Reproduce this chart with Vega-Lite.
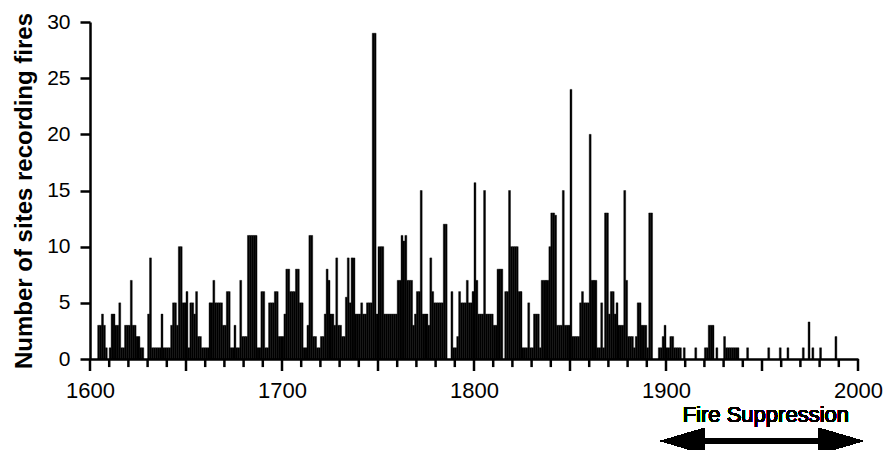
{
  "$schema": "https://vega.github.io/schema/vega-lite/v6.json",
  "width": 768,
  "height": 337,
  "autosize": {"type": "none"},
  "padding": {"left": 90, "top": 22, "right": 27, "bottom": 91},
  "background": "white",
  "config": {"view": {"stroke": null}, "font": "Liberation Sans"},
  "datasets": {
    "minorTicks": [{"year":1610},{"year":1620},{"year":1630},{"year":1640},{"year":1660},{"year":1670},{"year":1680},{"year":1690},{"year":1710},{"year":1720},{"year":1730},{"year":1740},{"year":1760},{"year":1770},{"year":1780},{"year":1790},{"year":1810},{"year":1820},{"year":1830},{"year":1840},{"year":1860},{"year":1870},{"year":1880},{"year":1890},{"year":1910},{"year":1920},{"year":1930},{"year":1940},{"year":1960},{"year":1970},{"year":1980},{"year":1990}],
    "majorTicks": [{"year":1600},{"year":1650},{"year":1700},{"year":1750},{"year":1800},{"year":1850},{"year":1900},{"year":1950},{"year":2000}]
  },
  "data": {"values": [
    {"year":1604,"sites":3},{"year":1605,"sites":3},{"year":1606,"sites":4},{"year":1607,"sites":3},{"year":1608,"sites":1},
    {"year":1610,"sites":1},{"year":1611,"sites":4},{"year":1612,"sites":4},{"year":1613,"sites":3},{"year":1614,"sites":3},
    {"year":1615,"sites":5},{"year":1616,"sites":1},{"year":1617,"sites":1},{"year":1618,"sites":3},{"year":1619,"sites":3},
    {"year":1620,"sites":3},{"year":1621,"sites":7},{"year":1622,"sites":3},{"year":1623,"sites":3},{"year":1624,"sites":2},
    {"year":1625,"sites":2},{"year":1626,"sites":1},{"year":1627,"sites":1},{"year":1630,"sites":4},{"year":1631,"sites":9},
    {"year":1632,"sites":1},{"year":1633,"sites":1},{"year":1634,"sites":1},{"year":1635,"sites":1},{"year":1636,"sites":1},
    {"year":1637,"sites":4},{"year":1638,"sites":1},{"year":1639,"sites":1},{"year":1640,"sites":1},{"year":1641,"sites":1},
    {"year":1642,"sites":3},{"year":1643,"sites":5},{"year":1644,"sites":5},{"year":1645,"sites":3},{"year":1646,"sites":10},
    {"year":1647,"sites":10},{"year":1648,"sites":5},{"year":1649,"sites":5},{"year":1650,"sites":6},{"year":1651,"sites":1},
    {"year":1652,"sites":5},{"year":1653,"sites":5},{"year":1654,"sites":4},{"year":1655,"sites":6},{"year":1656,"sites":2},
    {"year":1657,"sites":2},{"year":1658,"sites":1},{"year":1659,"sites":1},{"year":1660,"sites":1},{"year":1661,"sites":1},
    {"year":1662,"sites":5},{"year":1663,"sites":5},{"year":1664,"sites":7},{"year":1665,"sites":5},{"year":1666,"sites":5},
    {"year":1667,"sites":5},{"year":1668,"sites":5},{"year":1669,"sites":3},{"year":1670,"sites":3},{"year":1671,"sites":6},
    {"year":1672,"sites":6},{"year":1673,"sites":1},{"year":1674,"sites":1},{"year":1675,"sites":3},{"year":1676,"sites":1},
    {"year":1677,"sites":1},{"year":1678,"sites":7},{"year":1679,"sites":2},{"year":1680,"sites":2},{"year":1681,"sites":2},
    {"year":1682,"sites":11},{"year":1683,"sites":11},{"year":1684,"sites":11},{"year":1685,"sites":11},{"year":1686,"sites":11},
    {"year":1687,"sites":1},{"year":1688,"sites":1},{"year":1689,"sites":6},{"year":1690,"sites":6},{"year":1691,"sites":1},
    {"year":1692,"sites":1},{"year":1693,"sites":5},{"year":1694,"sites":5},{"year":1695,"sites":5},{"year":1696,"sites":6},
    {"year":1697,"sites":6},{"year":1698,"sites":2},{"year":1699,"sites":2},{"year":1700,"sites":2},{"year":1701,"sites":4},
    {"year":1702,"sites":8},{"year":1703,"sites":8},{"year":1704,"sites":6},{"year":1705,"sites":6},{"year":1706,"sites":6},
    {"year":1707,"sites":8},{"year":1708,"sites":8},{"year":1709,"sites":5},{"year":1710,"sites":5},{"year":1711,"sites":1},
    {"year":1712,"sites":1},{"year":1713,"sites":3},{"year":1714,"sites":11},{"year":1715,"sites":11},{"year":1716,"sites":2},
    {"year":1717,"sites":2},{"year":1718,"sites":1},{"year":1719,"sites":1},{"year":1720,"sites":2},{"year":1721,"sites":2},
    {"year":1722,"sites":4},{"year":1723,"sites":8},{"year":1724,"sites":7},{"year":1725,"sites":4},{"year":1726,"sites":4},
    {"year":1727,"sites":3},{"year":1728,"sites":9},{"year":1729,"sites":3},{"year":1730,"sites":3},{"year":1731,"sites":2},
    {"year":1732,"sites":2},{"year":1733,"sites":5.5},{"year":1734,"sites":9},{"year":1735,"sites":5},{"year":1736,"sites":9},
    {"year":1737,"sites":9},{"year":1738,"sites":4},{"year":1739,"sites":4},{"year":1740,"sites":4},{"year":1741,"sites":5},
    {"year":1742,"sites":4},{"year":1743,"sites":4},{"year":1744,"sites":5},{"year":1745,"sites":5},{"year":1746,"sites":5},
    {"year":1747,"sites":29},{"year":1748,"sites":29},{"year":1749,"sites":4},{"year":1750,"sites":10},{"year":1751,"sites":10},
    {"year":1752,"sites":10},{"year":1753,"sites":4},{"year":1754,"sites":4},{"year":1755,"sites":4},{"year":1756,"sites":4},
    {"year":1757,"sites":4},{"year":1758,"sites":4},{"year":1759,"sites":4},{"year":1760,"sites":7},{"year":1761,"sites":7},
    {"year":1762,"sites":11},{"year":1763,"sites":10.5},{"year":1764,"sites":11},{"year":1765,"sites":7},{"year":1766,"sites":7},
    {"year":1767,"sites":7},{"year":1768,"sites":3},{"year":1769,"sites":4},{"year":1770,"sites":6},{"year":1771,"sites":6},
    {"year":1772,"sites":15},{"year":1773,"sites":4},{"year":1774,"sites":4},{"year":1775,"sites":4},{"year":1776,"sites":3},
    {"year":1777,"sites":9},{"year":1778,"sites":6},{"year":1779,"sites":5},{"year":1780,"sites":5},{"year":1781,"sites":5},
    {"year":1782,"sites":5},{"year":1783,"sites":5},{"year":1784,"sites":12},{"year":1785,"sites":12},{"year":1788,"sites":6},
    {"year":1789,"sites":1},{"year":1790,"sites":1},{"year":1791,"sites":2},{"year":1792,"sites":6},{"year":1793,"sites":5},
    {"year":1794,"sites":5},{"year":1795,"sites":5},{"year":1796,"sites":7},{"year":1797,"sites":5},{"year":1798,"sites":5},
    {"year":1799,"sites":6},{"year":1800,"sites":15.7},{"year":1801,"sites":7},{"year":1802,"sites":4},{"year":1803,"sites":4},
    {"year":1804,"sites":4},{"year":1805,"sites":15},{"year":1806,"sites":4},{"year":1807,"sites":4},{"year":1808,"sites":4},
    {"year":1809,"sites":4},{"year":1810,"sites":3},{"year":1811,"sites":3},{"year":1812,"sites":8},{"year":1813,"sites":8},
    {"year":1814,"sites":8},{"year":1816,"sites":6},{"year":1817,"sites":6},{"year":1818,"sites":15},{"year":1819,"sites":10},
    {"year":1820,"sites":10},{"year":1821,"sites":10},{"year":1822,"sites":10},{"year":1823,"sites":6},{"year":1824,"sites":6},
    {"year":1825,"sites":1},{"year":1826,"sites":1},{"year":1827,"sites":1},{"year":1828,"sites":5},{"year":1829,"sites":1},
    {"year":1830,"sites":1},{"year":1831,"sites":4},{"year":1832,"sites":4},{"year":1833,"sites":4},{"year":1834,"sites":1},
    {"year":1835,"sites":7},{"year":1836,"sites":7},{"year":1837,"sites":7},{"year":1838,"sites":7},{"year":1839,"sites":10},
    {"year":1840,"sites":13},{"year":1841,"sites":13},{"year":1842,"sites":12.8},{"year":1843,"sites":3},{"year":1844,"sites":3},
    {"year":1845,"sites":3},{"year":1846,"sites":15},{"year":1847,"sites":3},{"year":1848,"sites":3},{"year":1849,"sites":3},
    {"year":1850,"sites":24},{"year":1851,"sites":2},{"year":1852,"sites":2},{"year":1853,"sites":2},{"year":1854,"sites":2},
    {"year":1855,"sites":5},{"year":1856,"sites":6},{"year":1857,"sites":5},{"year":1858,"sites":5},{"year":1859,"sites":5},
    {"year":1860,"sites":20},{"year":1861,"sites":7},{"year":1862,"sites":7},{"year":1863,"sites":7},{"year":1864,"sites":1},
    {"year":1865,"sites":1},{"year":1866,"sites":5},{"year":1867,"sites":1},{"year":1868,"sites":13},{"year":1869,"sites":13},
    {"year":1870,"sites":4},{"year":1871,"sites":6},{"year":1872,"sites":6},{"year":1873,"sites":4},{"year":1874,"sites":5},
    {"year":1875,"sites":3},{"year":1876,"sites":3},{"year":1877,"sites":3},{"year":1878,"sites":15},{"year":1879,"sites":7},
    {"year":1880,"sites":2},{"year":1881,"sites":2},{"year":1882,"sites":2},{"year":1883,"sites":1},{"year":1884,"sites":2},
    {"year":1885,"sites":5},{"year":1886,"sites":5},{"year":1887,"sites":3},{"year":1888,"sites":3},{"year":1889,"sites":3},
    {"year":1890,"sites":1},{"year":1891,"sites":13},{"year":1892,"sites":13},{"year":1896,"sites":1},{"year":1897,"sites":1},
    {"year":1898,"sites":2},{"year":1899,"sites":3},{"year":1900,"sites":1},{"year":1901,"sites":1},{"year":1902,"sites":2},
    {"year":1903,"sites":2},{"year":1904,"sites":1},{"year":1905,"sites":1},{"year":1906,"sites":1},{"year":1907,"sites":1},
    {"year":1909,"sites":1},{"year":1915,"sites":1},{"year":1920,"sites":1},{"year":1921,"sites":1},{"year":1922,"sites":3},
    {"year":1923,"sites":3},{"year":1924,"sites":3},{"year":1926,"sites":1},{"year":1930,"sites":2},{"year":1931,"sites":1},
    {"year":1932,"sites":1},{"year":1933,"sites":1},{"year":1934,"sites":1},{"year":1935,"sites":1},{"year":1936,"sites":1},
    {"year":1937,"sites":1},{"year":1942,"sites":1},{"year":1953,"sites":1},{"year":1959,"sites":1},{"year":1963,"sites":1},
    {"year":1971,"sites":1},{"year":1974,"sites":3.3},{"year":1976,"sites":1},{"year":1980,"sites":1},{"year":1988,"sites":2}
  ]},
  "layer": [
    {
      "mark": {"type": "bar", "color": "black", "width": 1.92, "xOffset": 0.96, "stroke": "black", "strokeWidth": 0.4},
      "encoding": {
        "x": {
          "field": "year", "type": "quantitative",
          "scale": {"domain": [1600, 2000], "nice": false, "zero": false, "padding": 0},
          "axis": {
            "title": null,
            "values": [1600,1700,1800,1900,2000],
            "format": "d",
            "ticks": false,
            "labelPadding": 21,
            "labelFontSize": 22,
            "labelColor": "black",
            "labelFlush": false,
            "labelOverlap": false,
            "labelFont": "Liberation Sans",
            "domainColor": "black",
            "domainWidth": 2.5,
            "grid": false
          }
        },
        "y": {
          "field": "sites", "type": "quantitative",
          "scale": {"domain": [0, 30], "nice": false},
          "axis": {
            "title": "Number of sites recording fires",
            "titleFontSize": 24,
            "titleFontWeight": "bold",
            "titleFont": "Liberation Sans",
            "titleColor": "black",
            "titlePadding": 10,
            "values": [0,5,10,15,20,25,30],
            "ticks": true,
            "tickSize": 10,
            "labelPadding": 10,
            "labelFontSize": 21,
            "labelColor": "black",
            "labelFont": "Liberation Sans",
            "domainColor": "black",
            "domainWidth": 2.5,
            "tickColor": "black",
            "tickWidth": 2.5,
            "grid": false
          }
        }
      }
    },
    {
      "data": {"name": "minorTicks"},
      "mark": {"type": "bar", "color": "black", "width": 2.5},
      "encoding": {
        "x": {"field": "year", "type": "quantitative"},
        "y": {"datum": 0, "type": "quantitative"},
        "y2": {"datum": -0.72}
      }
    },
    {
      "data": {"name": "majorTicks"},
      "mark": {"type": "bar", "color": "black", "width": 2.5},
      "encoding": {
        "x": {"field": "year", "type": "quantitative"},
        "y": {"datum": 0, "type": "quantitative"},
        "y2": {"datum": -1.07}
      }
    },
    {
      "mark": {"type": "text", "text": "Fire Suppression", "fontSize": 22, "font": "Liberation Sans", "color": "black", "align": "center", "baseline": "alphabetic"},
      "encoding": {
        "x": {"datum": 1952, "type": "quantitative"},
        "y": {"datum": -5.6, "type": "quantitative"}
      }
    },
    {
      "mark": {"type": "rule", "color": "black", "strokeWidth": 5},
      "encoding": {
        "x": {"datum": 1909, "type": "quantitative"},
        "x2": {"datum": 1991},
        "y": {"datum": -7.3, "type": "quantitative"}
      }
    },
    {
      "mark": {"type": "point", "shape": "M-1,0L1,-0.59L1,0.59Z", "filled": true, "color": "black", "opacity": 1, "size": 1936, "strokeWidth": 0},
      "encoding": {
        "x": {"datum": 1908.7, "type": "quantitative"},
        "y": {"datum": -7.3, "type": "quantitative"}
      }
    },
    {
      "mark": {"type": "point", "shape": "M1,0L-1,-0.59L-1,0.59Z", "filled": true, "color": "black", "opacity": 1, "size": 1936, "strokeWidth": 0},
      "encoding": {
        "x": {"datum": 1991, "type": "quantitative"},
        "y": {"datum": -7.3, "type": "quantitative"}
      }
    }
  ]
}
